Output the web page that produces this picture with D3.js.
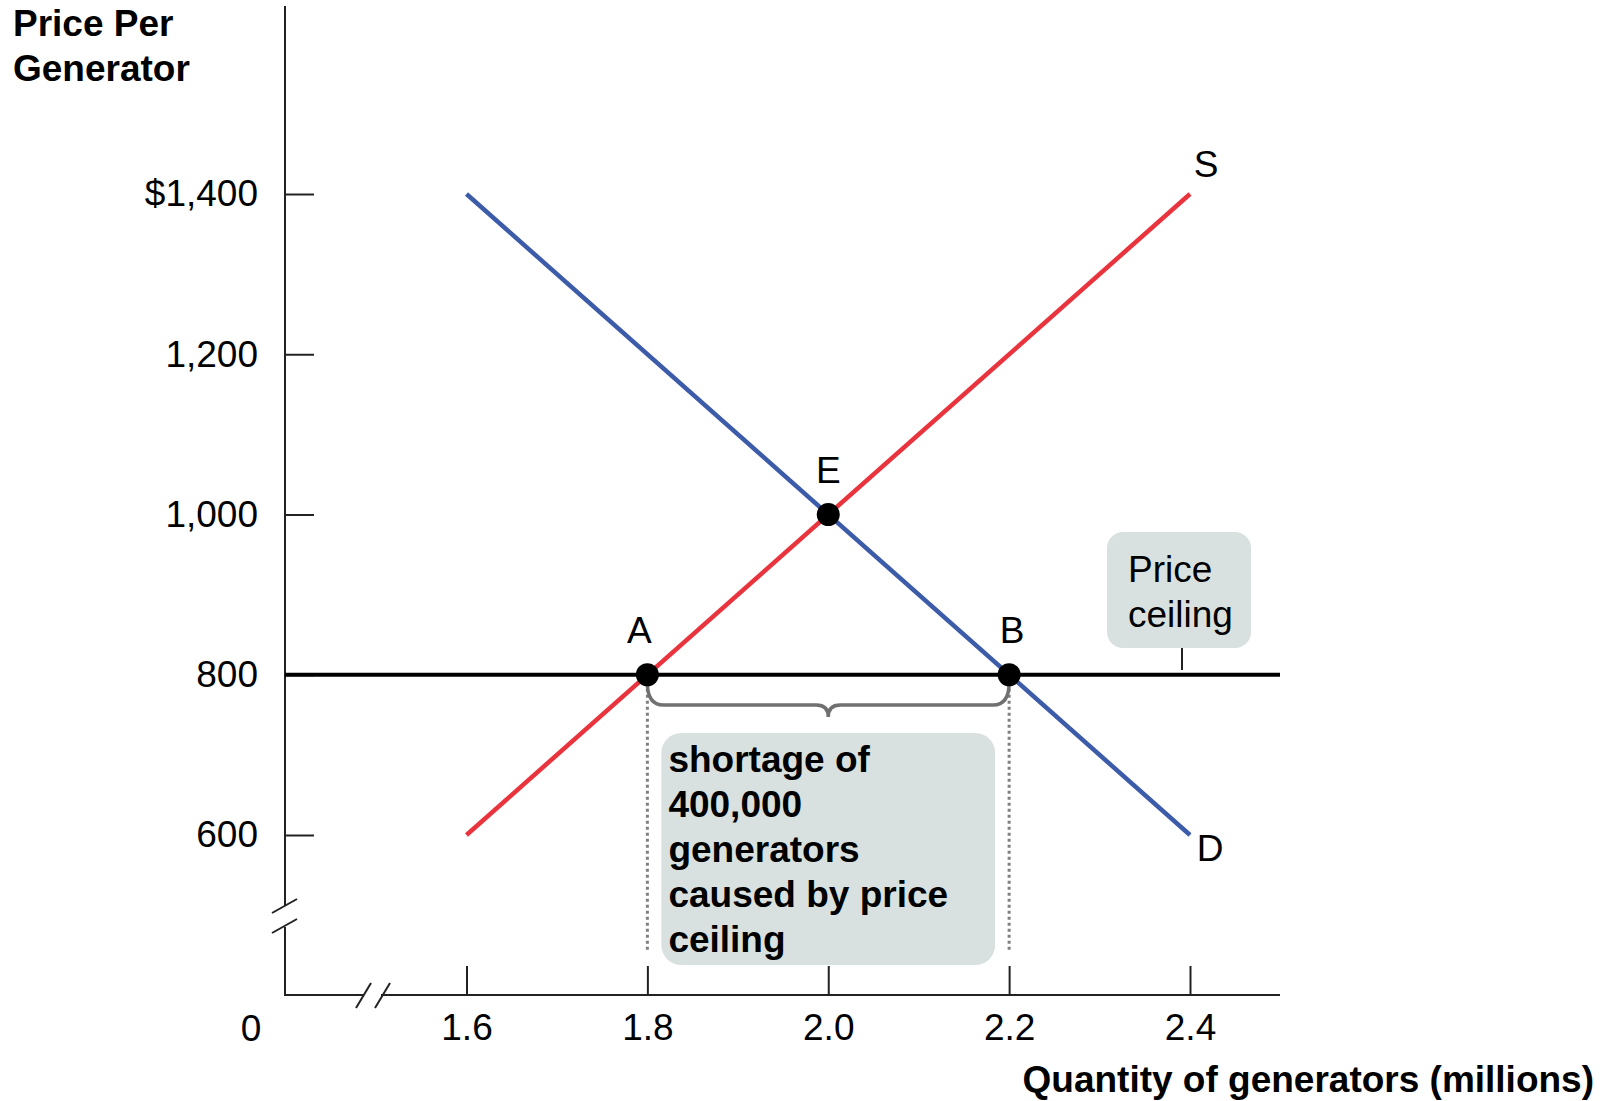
<!DOCTYPE html>
<html>
<head>
<meta charset="utf-8">
<script src="https://cdn.jsdelivr.net/npm/d3@7"></script>
<style>
  html, body { margin: 0; padding: 0; background: #fff; }
  svg { display: block; }
  text { font-family: "Liberation Sans", Arial, Helvetica, sans-serif; fill: #000; }
</style>
</head>
<body>
<svg id="chart" width="1614" height="1101"></svg>
<script>
// Market for generators: supply, demand and a binding price ceiling
const xTicks = [1.6, 1.8, 2.0, 2.2, 2.4];
const yTicks = [600, 800, 1000, 1200, 1400];
const yTickLabels = ["600", "800", "1,000", "1,200", "$1,400"];
const supply = [{ q: 1.6, p: 600 }, { q: 2.4, p: 1400 }];
const demand = [{ q: 1.6, p: 1400 }, { q: 2.4, p: 600 }];
const ceilingPrice = 800;
const points = [
  { name: "A", q: 1.8, p: 800 },
  { name: "B", q: 2.2, p: 800 },
  { name: "E", q: 2.0, p: 1000 }
];
const shortageLines = ["shortage of", "400,000", "generators", "caused by price", "ceiling"];
const ceilingLines = ["Price", "ceiling"];

const svg = d3.select("#chart");
const x = d3.scaleLinear().domain([1.6, 2.4]).range([466.5, 1190]);
const y = d3.scaleLinear().domain([600, 1400]).range([835, 194]);

const axisX0 = 285, axisY0 = 995, axisRight = 1280;
const FS = 37;

// Axis lines with break marks
const ax = svg.append("g").attr("stroke", "#222").attr("stroke-width", 2).attr("fill", "none");
ax.append("line").attr("x1", axisX0).attr("x2", axisX0).attr("y1", 6).attr("y2", 906);
ax.append("line").attr("x1", axisX0).attr("x2", axisX0).attr("y1", 927).attr("y2", axisY0 + 1);
ax.append("line").attr("x1", 272).attr("y1", 913).attr("x2", 297).attr("y2", 899);
ax.append("line").attr("x1", 272).attr("y1", 933).attr("x2", 297).attr("y2", 919);
ax.append("line").attr("x1", axisX0).attr("x2", 364).attr("y1", axisY0).attr("y2", axisY0);
ax.append("line").attr("x1", 381).attr("x2", axisRight).attr("y1", axisY0).attr("y2", axisY0);
ax.append("line").attr("x1", 356).attr("y1", 1008).attr("x2", 371).attr("y2", 983);
ax.append("line").attr("x1", 375).attr("y1", 1008).attr("x2", 390).attr("y2", 983);

// Y axis ticks (pointing inward) and labels
const yAxis = d3.axisLeft(y).tickValues(yTicks).tickSize(-29).tickPadding(27)
  .tickFormat((d, i) => yTickLabels[i]);
const gy = svg.append("g").attr("transform", `translate(${axisX0},0)`).call(yAxis);
gy.select(".domain").remove();
gy.selectAll(".tick line").attr("stroke", "#222").attr("stroke-width", 2);
gy.selectAll(".tick text").attr("font-size", FS).attr("font-family", null).attr("fill", "#000");

// X axis ticks and labels
const xAxis = d3.axisBottom(x).tickValues(xTicks).tickSize(-29).tickPadding(19)
  .tickFormat(d3.format(".1f"));
const gx = svg.append("g").attr("transform", `translate(0,${axisY0})`).call(xAxis);
gx.select(".domain").remove();
gx.selectAll(".tick line").attr("stroke", "#222").attr("stroke-width", 2);
gx.selectAll(".tick text").attr("font-size", FS).attr("font-family", null).attr("fill", "#000");

svg.append("text").attr("x", 251).attr("y", 1041).attr("text-anchor", "middle")
  .attr("font-size", FS).text("0");

// Axis titles
const yt = svg.append("text").attr("font-size", FS).attr("font-weight", "bold");
yt.append("tspan").attr("x", 13).attr("y", 36).text("Price Per");
yt.append("tspan").attr("x", 13).attr("y", 81).text("Generator");
svg.append("text").attr("x", 1594).attr("y", 1092).attr("text-anchor", "end")
  .attr("font-size", 37).attr("font-weight", "bold").text("Quantity of generators (millions)");

// Dotted guides from A and B
const pA = points[0], pB = points[1];
[pA, pB].forEach(p => {
  svg.append("line").attr("x1", x(p.q)).attr("x2", x(p.q))
    .attr("y1", y(p.p) + 8).attr("y2", 952)
    .attr("stroke", "#808080").attr("stroke-width", 3).attr("stroke-dasharray", "3,3");
});

// Shortage box
const sbX = x(pA.q) + 14, sbW = x(pB.q) - 14 - sbX;
svg.append("rect").attr("x", sbX).attr("y", 733).attr("width", sbW).attr("height", 232)
  .attr("rx", 20).attr("fill", "#d8e1df");
shortageLines.forEach((t, i) => {
  svg.append("text").attr("x", sbX + 7).attr("y", 772 + i * 45)
    .attr("font-size", FS).attr("font-weight", "bold").text(t);
});

// Brace spanning the shortage
const bx1 = x(pA.q), bx2 = x(pB.q), bm = (bx1 + bx2) / 2;
const bTop = y(ceilingPrice) + 8, bMid = 705;
svg.append("path")
  .attr("d", `M${bx1},${bTop} Q${bx1},${bMid} ${bx1 + 16},${bMid} L${bm - 12},${bMid} Q${bm},${bMid} ${bm},${bMid + 12} Q${bm},${bMid} ${bm + 12},${bMid} L${bx2 - 16},${bMid} Q${bx2},${bMid} ${bx2},${bTop}`)
  .attr("fill", "none").attr("stroke", "#707070").attr("stroke-width", 3.5);

// Price ceiling label box
svg.append("rect").attr("x", 1107).attr("y", 532).attr("width", 144).attr("height", 116)
  .attr("rx", 16).attr("fill", "#d8e1df");
ceilingLines.forEach((t, i) => {
  svg.append("text").attr("x", 1128).attr("y", 582 + i * 45).attr("font-size", FS).text(t);
});
svg.append("line").attr("x1", 1182).attr("x2", 1182).attr("y1", 648).attr("y2", 670)
  .attr("stroke", "#222").attr("stroke-width", 2);

// Price ceiling line
svg.append("line").attr("x1", axisX0).attr("x2", axisRight)
  .attr("y1", y(ceilingPrice)).attr("y2", y(ceilingPrice))
  .attr("stroke", "#000").attr("stroke-width", 4);

// Supply and demand curves
const line = d3.line().x(d => x(d.q)).y(d => y(d.p));
svg.append("path").datum(demand).attr("d", line)
  .attr("fill", "none").attr("stroke", "#3c5ba9").attr("stroke-width", 4.5);
svg.append("path").datum(supply).attr("d", line)
  .attr("fill", "none").attr("stroke", "#e9333d").attr("stroke-width", 4.5);

// Curve labels
svg.append("text").attr("x", x(2.4) + 16).attr("y", 177).attr("text-anchor", "middle")
  .attr("font-size", FS).text("S");
svg.append("text").attr("x", x(2.4) + 20).attr("y", 861).attr("text-anchor", "middle")
  .attr("font-size", FS).text("D");

// Key points
svg.selectAll("circle.pt").data(points).join("circle").attr("class", "pt")
  .attr("cx", d => x(d.q)).attr("cy", d => y(d.p)).attr("r", 11.5).attr("fill", "#000");
const labelOffset = { A: [-8, -32], B: [3, -32], E: [0, -32] };
svg.selectAll("text.pl").data(points).join("text").attr("class", "pl")
  .attr("x", d => x(d.q) + labelOffset[d.name][0])
  .attr("y", d => y(d.p) + labelOffset[d.name][1])
  .attr("text-anchor", "middle").attr("font-size", FS).text(d => d.name);
</script>
</body>
</html>
